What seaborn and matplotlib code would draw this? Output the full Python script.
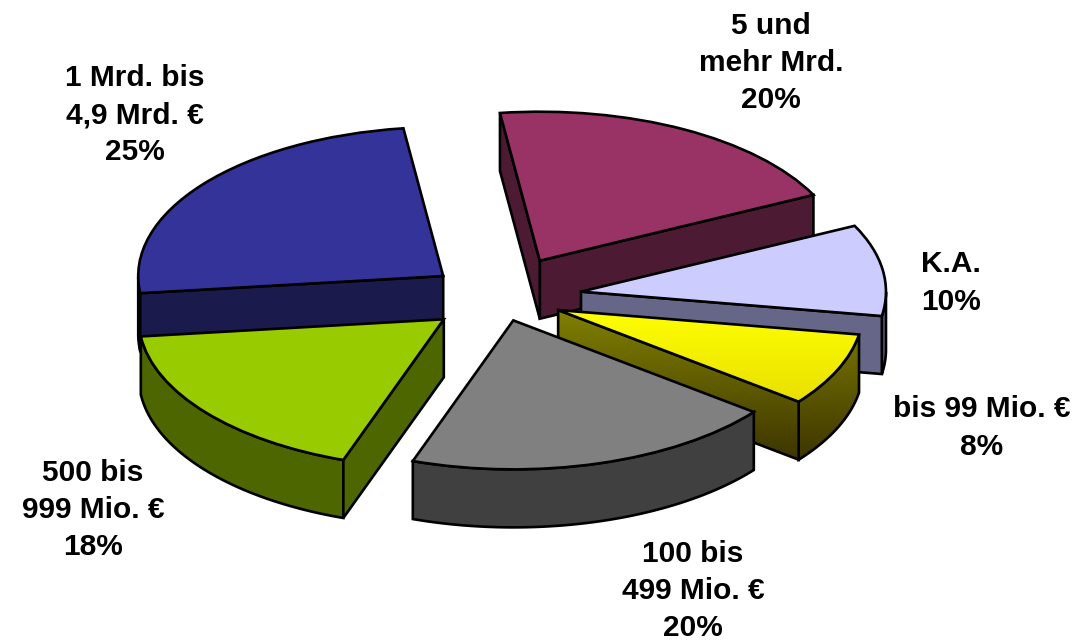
import numpy as np
import matplotlib
matplotlib.use("Agg")
import matplotlib.pyplot as plt
from matplotlib.colors import LinearSegmentedColormap
from matplotlib.patches import Polygon
import seaborn as sns

# Werte aus dem Bild, im Uhrzeigersinn ab "5 und mehr Mrd."
names = ["5 und\nmehr Mrd.", "K.A.", "bis 99 Mio. €", "100 bis\n499 Mio. €", "500 bis\n999 Mio. €", "1 Mrd. bis\n4,9 Mrd. €"]
shares = [20, 10, 8, 20, 18, 25]
explode = [0.28, 0.27, 0.21, 0.16, 0.234, 0.234]
top_colors = ["#993366", "#CCCCFF", "#FFFF00", "#808080", "#99CC00", "#333399"]
wall_colors = ["#4D1A33", "#666688", "#808000", "#404040", "#4D6600", "#1A1A4D"]
label_pos = [(771, 63), (951, 283), (982, 428), (693, 591), (93, 510), (135, 115)]

# Zeichenreihenfolge: hinten nach vorne
draw_order = [5, 0, 1, 2, 3, 4]

# Ellipse und Tiefe in Pixeln
W, H = 1092, 642
RX, RY = 305, 149
CX, CY = 499.5, 297.5
DEPTH = 58 / RY
YELLOW = 2

sns.set_theme(style="white")
plt.rcParams["font.family"] = ["Liberation Sans", "DejaVu Sans"]

fig, ax = plt.subplots(figsize=(W / 100, H / 100), dpi=100)
fig.subplots_adjust(left=0, right=1, top=1, bottom=0)

wedges, _ = ax.pie(
    shares,
    explode=explode,
    colors=top_colors,
    startangle=97.5,
    counterclock=False,
    wedgeprops={"edgecolor": "black", "linewidth": 1.9, "joinstyle": "miter"},
)

# Achsen strecken, damit der Kreis zur Ellipse wird
ax.set_aspect("auto")
ax.set_xlim(-CX / RX, (W - CX) / RX)
ax.set_ylim((CY - H) / RY, CY / RY)
ax.axis("off")


def rim(wedge, t):
    a = np.radians(t)
    return wedge.center[0] + np.cos(a), wedge.center[1] + np.sin(a)


def side_faces(wedge):
    """Sichtbare Seitenflaechen eines Stuecks: Aussenbogen und Schnittkanten."""
    faces = []
    t = np.linspace(wedge.theta1, wedge.theta2, 200)
    t = t[np.sin(np.radians(t)) < 0]
    if len(t) > 1:
        x, y = rim(wedge, t)
        faces.append(np.r_[np.c_[x, y], np.c_[x[::-1], y[::-1] - DEPTH]])
    cx, cy = wedge.center
    for edge, sign in ((wedge.theta1, 1), (wedge.theta2, -1)):
        if sign * np.cos(np.radians(edge)) > 0:
            x, y = rim(wedge, edge)
            faces.append(np.array([(cx, cy), (x, y), (x, y - DEPTH), (cx, cy - DEPTH)]))
    return faces


def fill_gradient(patch, c_top, c_bottom, y_top, y_bottom, zorder):
    cmap = LinearSegmentedColormap.from_list("g", [c_top, c_bottom])
    im = ax.imshow(
        np.linspace(0, 1, 256)[:, None],
        cmap=cmap,
        extent=(ax.get_xlim()[0], ax.get_xlim()[1], y_bottom, y_top),
        aspect="auto",
        zorder=zorder,
    )
    im.set_clip_path(patch)


xlim, ylim = ax.get_xlim(), ax.get_ylim()

for rank, i in enumerate(draw_order):
    wedge = wedges[i]
    base = 10 * rank + 1
    y_top = wedge.center[1]
    y_bottom = rim(wedge, wedge.theta1)[1]
    for k, face in enumerate(side_faces(wedge)):
        z = base + k * 0.1
        poly = Polygon(face, closed=True, facecolor=wall_colors[i], edgecolor="black",
                       linewidth=1.9, joinstyle="miter", zorder=z)
        ax.add_patch(poly)
        if i == YELLOW:
            poly.set_facecolor("none")
            poly.set_zorder(z + 0.01)
            fill_gradient(poly, "#808000", "#3D3500", y_top, y_bottom - DEPTH, z)
    wedge.set_zorder(base + 5)
    if i == YELLOW:
        wedge.set_facecolor("none")
        wedge.set_zorder(base + 6)
        fill_gradient(wedge, "#FFFF00", "#E8E000", y_top, y_bottom, base + 5)

ax.set_xlim(xlim)
ax.set_ylim(ylim)

# Beschriftung
for name, share, (px, py) in zip(names, shares, label_pos):
    fig.text(px / W, 1 - py / H, f"{name}\n{share}%", ha="center", va="center",
             fontsize=21.5, fontweight="bold", color="black", linespacing=1.42)

plt.savefig("out.png", dpi=100)
